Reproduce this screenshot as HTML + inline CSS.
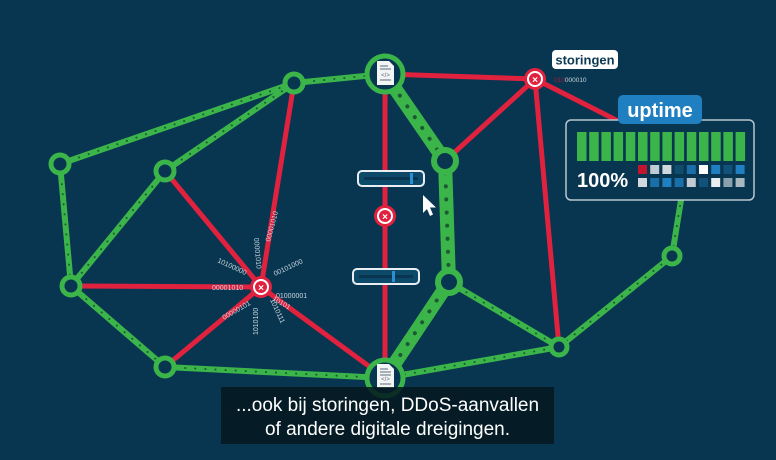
<!DOCTYPE html>
<html><head><meta charset="utf-8"><style>
html,body{margin:0;padding:0;background:#08354f;}
svg{display:block}
text{font-family:"Liberation Sans",sans-serif}
</style></head><body>
<svg width="776" height="460" viewBox="0 0 776 460" xmlns="http://www.w3.org/2000/svg">
<rect width="776" height="460" fill="#08354f"/>
<!-- red lines -->
<g stroke="#e0223f" stroke-width="5" fill="none" stroke-linecap="round">
<line x1="385" y1="74" x2="535" y2="79"/>
<line x1="535" y1="79" x2="445" y2="161"/>
<line x1="535" y1="79" x2="620" y2="122"/>
<line x1="535" y1="79" x2="559" y2="347"/>
<line x1="385" y1="74" x2="385" y2="378"/>
<line x1="294" y1="83" x2="261" y2="287"/>
<line x1="165" y1="171" x2="261" y2="287"/>
<line x1="71" y1="286" x2="261" y2="287"/>
<line x1="165" y1="367" x2="261" y2="287"/>
<line x1="385" y1="378" x2="261" y2="287"/>
</g>
<!-- green thin lines -->
<g id="gl" stroke="#3bb54a" stroke-width="6" fill="none" stroke-linecap="round">
<line x1="60" y1="164" x2="294" y2="83"/>
<line x1="165" y1="171" x2="294" y2="83"/>
<line x1="294" y1="83" x2="385" y2="74"/>
<line x1="60" y1="164" x2="71" y2="286"/>
<line x1="165" y1="171" x2="71" y2="286"/>
<line x1="71" y1="286" x2="165" y2="367"/>
<line x1="165" y1="367" x2="385" y2="378"/>
<line x1="385" y1="378" x2="559" y2="347"/>
<line x1="449" y1="282" x2="559" y2="347"/>
<line x1="559" y1="347" x2="672" y2="256"/>
<line x1="672" y1="256" x2="681" y2="200"/>
</g>
<g stroke="#1d5a33" stroke-width="2" fill="none" stroke-linecap="round" stroke-dasharray="0.1 10">
<line x1="60" y1="164" x2="294" y2="83"/>
<line x1="165" y1="171" x2="294" y2="83"/>
<line x1="294" y1="83" x2="385" y2="74"/>
<line x1="60" y1="164" x2="71" y2="286"/>
<line x1="165" y1="171" x2="71" y2="286"/>
<line x1="71" y1="286" x2="165" y2="367"/>
<line x1="165" y1="367" x2="385" y2="378"/>
<line x1="385" y1="378" x2="559" y2="347"/>
<line x1="449" y1="282" x2="559" y2="347"/>
<line x1="559" y1="347" x2="672" y2="256"/>
<line x1="672" y1="256" x2="681" y2="200"/>
</g>
<!-- thick green -->
<g stroke="#3bb54a" stroke-width="14" fill="none" stroke-linecap="round">
<polyline points="385,74 445,161 449,282 385,378"/>
</g>
<g stroke="#1d5a33" stroke-width="4" fill="none" stroke-linecap="round" stroke-dasharray="0.1 13">
<polyline points="385,74 445,161 449,282 385,378"/>
</g>
<!-- green nodes -->
<g fill="#08354f" stroke="#3bb54a" stroke-width="5">
<circle cx="60" cy="164" r="9"/>
<circle cx="165" cy="171" r="9"/>
<circle cx="294" cy="83" r="9"/>
<circle cx="71" cy="286" r="9"/>
<circle cx="165" cy="367" r="9"/>
<circle cx="559" cy="347" r="8"/>
<circle cx="672" cy="256" r="8"/>
<circle cx="445" cy="161" r="11" stroke-width="6"/>
<circle cx="449" cy="282" r="11" stroke-width="6"/>
<circle cx="385" cy="74" r="18" stroke-width="5"/>
<circle cx="385" cy="378" r="18" stroke-width="5"/>
</g>
<!-- doc icons -->
<g>
<path d="M377,61 h12 l5,5 v19 h-17z" fill="#f2f4f5"/>
<g stroke="#5b6b76" stroke-width="1"><line x1="380" y1="66" x2="388" y2="66"/><line x1="380" y1="69" x2="391" y2="69"/><line x1="380" y1="80" x2="391" y2="80"/></g>
<text x="385.5" y="77" font-size="6" text-anchor="middle" fill="#5b6b76">&lt;/&gt;</text>
<path d="M377,364 h12 l5,5 v19 h-17z" fill="#f2f4f5"/>
<g stroke="#5b6b76" stroke-width="1"><line x1="380" y1="369" x2="388" y2="369"/><line x1="380" y1="372" x2="391" y2="372"/><line x1="380" y1="375" x2="391" y2="375"/><line x1="380" y1="384" x2="391" y2="384"/></g>
<text x="385.5" y="381" font-size="6" text-anchor="middle" fill="#5b6b76">&lt;/&gt;</text>
</g>
<!-- binary burst -->
<g fill="#c9d6df" font-size="7" font-family="Liberation Mono,monospace">
<text x="212" y="290">00001010</text>
<text x="276" y="298">01000001</text>
<text transform="translate(217,262) rotate(25)">10100000</text>
<text transform="translate(254,238) rotate(85)">00001010</text>
<text transform="translate(270,242) rotate(-75)" >00001010</text>
<text transform="translate(275,276) rotate(-25)">00101000</text>
<text transform="translate(224,320) rotate(-30)">00000101</text>
<text transform="translate(258,335) rotate(-90)">1010100</text>
<text transform="translate(270,300) rotate(65)">1010111</text>
<text transform="translate(272,300) rotate(30)">10101</text>
</g>
<!-- red X nodes -->
<g>
<circle cx="261" cy="287" r="11" fill="#e0223f"/><circle cx="261" cy="287" r="7" fill="none" stroke="#fff" stroke-width="2"/>
<text x="261" y="291" font-size="10" font-weight="bold" fill="#fff" text-anchor="middle">×</text>
<circle cx="385" cy="216" r="11" fill="#e0223f"/><circle cx="385" cy="216" r="7" fill="none" stroke="#fff" stroke-width="2"/>
<text x="385" y="220" font-size="10" font-weight="bold" fill="#fff" text-anchor="middle">×</text>
<circle cx="535" cy="79" r="11" fill="#e0223f"/><circle cx="535" cy="79" r="7" fill="none" stroke="#fff" stroke-width="2"/>
<text x="535" y="83" font-size="10" font-weight="bold" fill="#fff" text-anchor="middle">×</text>
</g>
<!-- sliders -->
<rect x="358" y="171" width="66" height="15" rx="4" fill="#0d4a6a" stroke="#e8eef2" stroke-width="2"/>
<line x1="364" y1="178.5" x2="418" y2="178.5" stroke="#0a3550" stroke-width="3"/>
<rect x="410" y="173" width="3" height="11" fill="#2b8fd3"/>
<rect x="353" y="269" width="66" height="15" rx="4" fill="#0d4a6a" stroke="#e8eef2" stroke-width="2"/>
<line x1="359" y1="276.5" x2="413" y2="276.5" stroke="#0a3550" stroke-width="3"/>
<rect x="392" y="271" width="3" height="11" fill="#2b8fd3"/>
<!-- cursor -->
<path d="M423,195 l0,18 l4,-4 l3,7 l3,-1.5 l-3,-7 l6,0z" fill="#fff"/>
<!-- storingen -->
<rect x="552" y="50" width="66" height="19" rx="4" fill="#fff"/>
<text x="585" y="64.5" font-size="13" font-weight="bold" fill="#0c3a52" text-anchor="middle">storingen</text>
<text x="554" y="82" font-size="6.5" fill="#c9d6df"><tspan fill="#a0203a">010</tspan>000010</text>
<!-- uptime box -->
<rect x="566" y="120" width="188" height="80" rx="5" fill="#08354f" stroke="#b9c6cf" stroke-width="1.5"/>
<rect x="618" y="95" width="84" height="29" rx="5" fill="#1f7fc0"/>
<text x="660" y="117" font-size="20" font-weight="bold" fill="#fff" text-anchor="middle">uptime</text>
<g fill="#3bb54a">
<rect x="577" y="132" width="9.5" height="29"/><rect x="589.2" y="132" width="9.5" height="29"/><rect x="601.4" y="132" width="9.5" height="29"/><rect x="613.6" y="132" width="9.5" height="29"/><rect x="625.8" y="132" width="9.5" height="29"/><rect x="638" y="132" width="9.5" height="29"/><rect x="650.2" y="132" width="9.5" height="29"/><rect x="662.4" y="132" width="9.5" height="29"/><rect x="674.6" y="132" width="9.5" height="29"/><rect x="686.8" y="132" width="9.5" height="29"/><rect x="699" y="132" width="9.5" height="29"/><rect x="711.2" y="132" width="9.5" height="29"/><rect x="723.4" y="132" width="9.5" height="29"/><rect x="735.6" y="132" width="9.5" height="29"/>
</g>
<text x="577" y="187" font-size="20" font-weight="bold" fill="#fff">100%</text>
<g>
<rect x="638" y="165" width="9" height="9" fill="#c0142f"/><rect x="650.2" y="165" width="9" height="9" fill="#c0cbd3"/><rect x="662.4" y="165" width="9" height="9" fill="#d0d8de"/><rect x="674.6" y="165" width="9" height="9" fill="#0f4c6e"/><rect x="686.8" y="165" width="9" height="9" fill="#1a6fa8"/><rect x="699" y="165" width="9" height="9" fill="#fff"/><rect x="711.2" y="165" width="9" height="9" fill="#1f7fc0"/><rect x="723.4" y="165" width="9" height="9" fill="#12527a"/><rect x="735.6" y="165" width="9" height="9" fill="#1f7fc0"/>
<rect x="638" y="178" width="9" height="9" fill="#d0d8de"/><rect x="650.2" y="178" width="9" height="9" fill="#1a6fa8"/><rect x="662.4" y="178" width="9" height="9" fill="#1f7fc0"/><rect x="674.6" y="178" width="9" height="9" fill="#1a6fa8"/><rect x="686.8" y="178" width="9" height="9" fill="#c0cbd3"/><rect x="699" y="178" width="9" height="9" fill="#12527a"/><rect x="711.2" y="178" width="9" height="9" fill="#e8eef0"/><rect x="723.4" y="178" width="9" height="9" fill="#8aa0ad"/><rect x="735.6" y="178" width="9" height="9" fill="#a8b8c0"/>
</g>
<!-- subtitle -->
<rect x="221" y="387" width="333" height="57" fill="#05171f" fill-opacity="0.85"/>
<text x="387.5" y="411" font-size="19" fill="#fff" text-anchor="middle">...ook bij storingen, DDoS-aanvallen</text>
<text x="387.5" y="435" font-size="19" fill="#fff" text-anchor="middle">of andere digitale dreigingen.</text>
</svg>
</body></html>
